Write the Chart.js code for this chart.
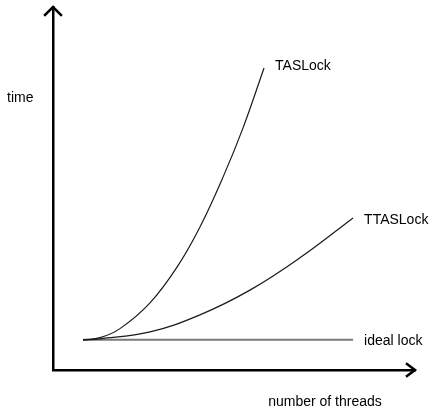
<!DOCTYPE html>
<html>
<head>
<meta charset="utf-8">
<script src="https://cdn.jsdelivr.net/npm/chart.js@4/dist/chart.umd.min.js"></script>
<style>
  html, body { margin: 0; padding: 0; background: #fff; }
  #wrap { width: 436px; height: 409px; }
</style>
</head>
<body>
<div id="wrap"><canvas id="lock_chart"></canvas></div>
<script>
// curves (x = threads, y = time, arbitrary units)
var tasX = [0.83, 1.30, 1.85, 2.68, 3.43, 4.06, 4.70, 5.25, 5.83];
var tasY = [0.83, 0.89, 1.14, 1.85, 2.84, 3.94, 5.32, 6.67, 8.32];
var ttasX = [0.83, 1.30, 2.68, 4.06, 5.44, 6.82, 8.29];
var ttasY = [0.83, 0.86, 1.05, 1.52, 2.20, 3.09, 4.19];
var idealX = [0.83, 8.29];
var idealY = [0.83, 0.83];
var seriesNames = ['TASLock', 'TTASLock', 'ideal lock'];
var axisTitles = { x: 'number of threads', y: 'time' };

function toPoints(xs, ys) {
    return xs.map(function(x, i) { return {x: x, y: ys[i]}; });
}

var FONT = '14px "Liberation Sans", Arial, Helvetica, sans-serif';
var labelNudge = [-2, 2, 1];

// arrowheads, axis words and line end labels
var decorPlugin = {
    id: 'decor',
    afterDraw: function(chart) {
        var ctx = chart.ctx, area = chart.chartArea;
        var x0 = area.left, y0 = area.bottom;
        ctx.save();
        ctx.strokeStyle = '#000';
        ctx.lineWidth = 2.5;
        ctx.lineCap = 'square';
        ctx.lineJoin = 'miter';
        // up arrow
        ctx.beginPath();
        ctx.moveTo(x0 - 8, area.top + 8);
        ctx.lineTo(x0, area.top);
        ctx.lineTo(x0 + 8, area.top + 8);
        ctx.stroke();
        // right arrow
        ctx.beginPath();
        ctx.moveTo(area.right - 8, y0 - 6);
        ctx.lineTo(area.right, y0);
        ctx.lineTo(area.right - 8, y0 + 6);
        ctx.stroke();

        ctx.fillStyle = '#000';
        ctx.font = FONT;
        ctx.textBaseline = 'middle';
        ctx.textAlign = 'left';
        ctx.fillText(axisTitles.y, 7, 98);
        ctx.textAlign = 'center';
        ctx.fillText(axisTitles.x, 325, 402);

        ctx.textAlign = 'left';
        chart.data.datasets.forEach(function(ds, i) {
            var meta = chart.getDatasetMeta(i);
            var last = meta.data[meta.data.length - 1];
            ctx.fillText(ds.label, last.x + 11, last.y + labelNudge[i]);
        });
        ctx.restore();
    }
};

var lockChart = new Chart(document.getElementById('lock_chart').getContext('2d'), {
    type: 'line',
    data: {
        datasets: [{
            label: seriesNames[0],
            data: toPoints(tasX, tasY),
            borderColor: '#1a1a1a',
            borderWidth: 1.2
        }, {
            label: seriesNames[1],
            data: toPoints(ttasX, ttasY),
            borderColor: '#1a1a1a',
            borderWidth: 1.2
        }, {
            label: seriesNames[2],
            data: toPoints(idealX, idealY),
            borderColor: '#7a7a7a',
            borderWidth: 2
        }]
    },
    options: {
        responsive: true,
        maintainAspectRatio: false,
        animation: false,
        devicePixelRatio: 1,
        layout: {
            padding: { left: 53, right: 21, top: 7, bottom: 39 }
        },
        elements: {
            point: { radius: 0 },
            line: { tension: 0.4 }
        },
        plugins: {
            legend: { display: false },
            title: { display: false },
            tooltip: { enabled: false }
        },
        scales: {
            x: {
                type: 'linear',
                min: 0,
                max: 10,
                grid: { display: false },
                ticks: { display: false, padding: 0 },
                border: { display: true, color: '#000', width: 2.5 },
                afterFit: function(scale) { scale.height = 0; }
            },
            y: {
                min: 0,
                max: 10,
                grid: { display: false },
                ticks: { display: false, padding: 0 },
                border: { display: true, color: '#000', width: 2.5 },
                afterFit: function(scale) { scale.width = 0; }
            }
        }
    },
    plugins: [decorPlugin]
});
</script>
</body>
</html>
